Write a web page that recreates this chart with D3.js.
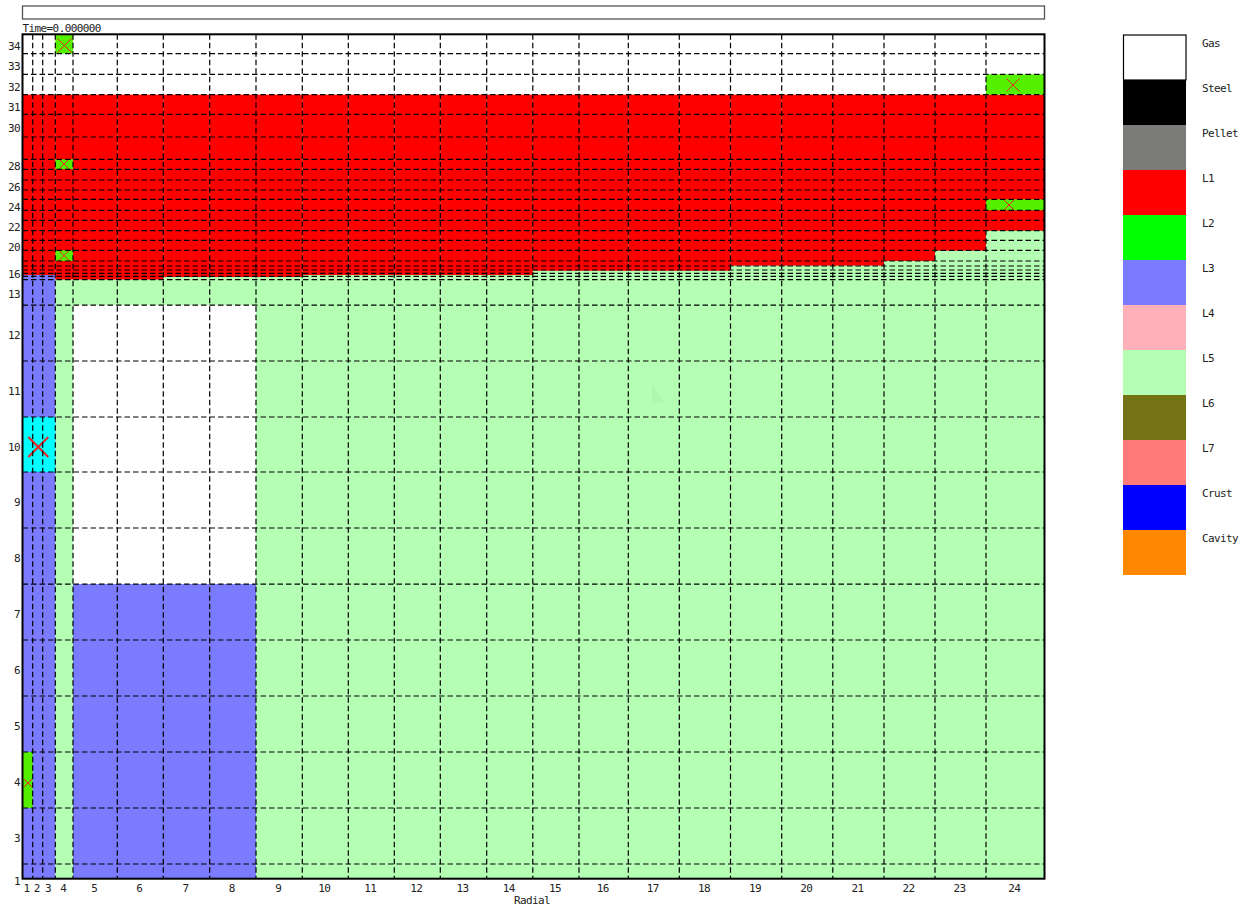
<!DOCTYPE html>
<html>
<head>
<meta charset="utf-8">
<title>Time=0.000000</title>
<script src="https://cdn.jsdelivr.net/npm/d3@7"></script>
<style>
  html, body { margin: 0; background: #fff; }
  svg { display: block; }
  text { font-family: "DejaVu Sans Mono", monospace; font-size: 11px; letter-spacing: -0.6px; fill: #222; }
  .axis path, .axis line { display: none; }
</style>
</head>
<body>
<script>
//radial mesh, cell outer edges (first value is the axis)
var radialEdges = [0, 1.02, 2.02, 3.28, 5.05, 9.48, 14.08, 18.72, 23.35, 27.98, 32.58, 37.18,
  41.78, 46.42, 51.03, 55.65, 60.58, 65.68, 70.8, 75.92, 81.03, 86.15, 91.25, 96.35, 102.2];

//axial mesh, cell top heights for rows 1 to 34 (row 1 has no height)
var axialEdges = [0, 0, 2.63, 12.67, 22.7, 32.74, 42.77, 52.8, 62.84, 72.87, 82.73, 92.76, 102.79,
  107.36, 107.94, 108.47, 109.07, 109.78, 110.68, 112.6, 114.39, 116.14, 117.97, 119.76,
  121.73, 123.4, 125.19, 127.11, 128.9, 132.9, 136.96, 140.48, 144.13, 147.82, 151.3];

var radialLabels = d3.range(1, 25);
var axialLabels = [34, 33, 32, 31, 30, 28, 26, 24, 22, 20, 16, 13, 12, 11, 10, 9, 8, 7, 6, 5, 4, 3, 1];

//legend
var materialNames = ["Gas", "Steel", "Pellet", "L1", "L2", "L3", "L4", "L5", "L6", "L7", "Crust", "Cavity"];
var materialColors = ["#ffffff", "#000000", "#7b7b78", "#ff0000", "#00ff00", "#7b7bff",
  "#ffb0b8", "#b4ffb4", "#747414", "#ff7b7b", "#0000ff", "#ff8800"];

//material blocks, painted in this order, by column and row range
var blockMaterial = ["L5", "L3", "L3", "Gas", "Gas"];
var blockColFrom = [4, 1, 5, 5, 1];
var blockColTo = [24, 3, 8, 8, 24];
var blockRowFrom = [1, 1, 1, 8, 32];
var blockRowTo = [31, 31, 7, 12, 34];

//L1 layer: bottom height for each of the 24 columns, and its common top
var l1Bottom = [108.17, 108.17, 108.17, 107.36, 107.36, 107.36, 107.81, 107.81, 107.81, 108.17,
  108.17, 108.17, 108.17, 108.17, 108.94, 108.94, 108.94, 108.94, 109.84, 109.84, 109.84,
  110.68, 112.53, 116.11];
var l1Top = 140.48;

//flagged cells drawn over the materials
var flagColor = ["#55f000", "#55f000", "#55f000", "#55f000", "#55f000", "#00ffff", "#55f000"];
var flagColFrom = [4, 4, 4, 24, 24, 1, 1];
var flagColTo = [4, 4, 4, 24, 24, 3, 1];
var flagRow = [34, 28, 19, 32, 24, 10, 4];

//crosses on those cells: radial, height, half size (radial units), line weight
var crossRadial = [4.2, 4.15, 4.15, 99.05, 98.65, 1.58, 0.55];
var crossHeight = [149.29, 128.06, 111.66, 142.21, 120.71, 77.35, 17.15];
var crossSize = [0.7, 0.5, 0.55, 0.65, 0.5, 1.0, 0.4];
var crossWeight = [1, 1, 1, 1, 1, 2, 1];

//faint pointer left in the frame
var pointerRadial = [62.95, 64.15, 62.95];
var pointerHeight = [88.7, 85.6, 85.1];

//Width and height
var w = 1250;
var h = 909;

var svg = d3.select("body")
            .append("svg")
            .attr("width", w)
            .attr("height", h);

//scales
var xScale = d3.scaleLinear()
            .domain([0, 102.2])
            .range([22.5, 1044.5]);

var yScale = d3.scaleLinear()
            .domain([0, 151.3])
            .range([878.7, 34.3]);

var legendScale = d3.scaleBand()
            .domain(materialNames)
            .range([35, 575]);

function materialColor(name){
    return materialColors[materialNames.indexOf(name)];
}

//paints a rectangle between two radial and two axial positions
function fillRect(r0, r1, z0, z1, color){
    svg.append("rect")
        .attr("x", xScale(r0))
        .attr("y", yScale(z1))
        .attr("width", xScale(r1) - xScale(r0))
        .attr("height", yScale(z0) - yScale(z1))
        .attr("fill", color);
}

//status bar at the top
svg.append("rect")
    .attr("x", 22.5)
    .attr("y", 6)
    .attr("width", 1022)
    .attr("height", 13)
    .attr("fill", "none")
    .attr("stroke", "#555")
    .attr("stroke-width", 1.3);

svg.append("text")
    .attr("x", 22.5)
    .attr("y", 32)
    .text("Time=0.000000");

//material blocks
blockMaterial.forEach(function(m, i){
    fillRect(radialEdges[blockColFrom[i] - 1], radialEdges[blockColTo[i]],
             axialEdges[blockRowFrom[i] - 1], axialEdges[blockRowTo[i]], materialColor(m));
});

//L1 layer
l1Bottom.forEach(function(z, i){
    fillRect(radialEdges[i], radialEdges[i + 1], z, l1Top, materialColor("L1"));
});

//flagged cells
flagRow.forEach(function(r, i){
    fillRect(radialEdges[flagColFrom[i] - 1], radialEdges[flagColTo[i]],
             axialEdges[r - 1], axialEdges[r], flagColor[i]);
});

//pointer
svg.append("path")
    .attr("d", d3.line()
        .x(function(d){return xScale(d)})
        .y(function(d, i){return yScale(pointerHeight[i])})
        .curve(d3.curveLinearClosed)(pointerRadial))
    .attr("fill", "#aef8ae");

//crosses
crossRadial.forEach(function(r, i){
    var s = xScale(crossSize[i]) - xScale(0);
    var cx = xScale(r);
    var cy = yScale(crossHeight[i]);
    var p = d3.path();
    p.moveTo(cx - s, cy - s);
    p.lineTo(cx + s, cy + s);
    p.moveTo(cx - s, cy + s);
    p.lineTo(cx + s, cy - s);
    svg.append("path")
        .attr("d", p.toString())
        .attr("fill", "none")
        .attr("stroke", "#ee2222")
        .attr("stroke-width", crossWeight[i]);
});

//dashed mesh lines
svg.selectAll(".vgrid")
    .data(radialEdges.slice(1, -1))
    .enter()
    .append("line")
    .attr("class", "vgrid")
    .attr("x1", function(d){return xScale(d)})
    .attr("x2", function(d){return xScale(d)})
    .attr("y1", yScale(151.3))
    .attr("y2", yScale(0))
    .attr("stroke", "#000")
    .attr("stroke-width", 1.2)
    .attr("stroke-dasharray", "5.5,3");

svg.selectAll(".hgrid")
    .data(axialEdges.slice(2, -1))
    .enter()
    .append("line")
    .attr("class", "hgrid")
    .attr("x1", xScale(0))
    .attr("x2", xScale(102.2))
    .attr("y1", function(d){return yScale(d)})
    .attr("y2", function(d){return yScale(d)})
    .attr("stroke", "#000")
    .attr("stroke-width", 1.2)
    .attr("stroke-dasharray", "5.5,3");

//plot frame
svg.append("rect")
    .attr("x", xScale(0))
    .attr("y", yScale(151.3))
    .attr("width", xScale(102.2) - xScale(0))
    .attr("height", yScale(0) - yScale(151.3))
    .attr("fill", "none")
    .attr("stroke", "#000")
    .attr("stroke-width", 2);

//X axis, labels sit at the middle of each column
svg.append("g")
    .attr("class", "axis")
    .attr("transform", "translate(-1," + yScale(0) + ")")
    .call(d3.axisBottom(xScale)
        .tickValues(radialLabels.map(function(c){return (radialEdges[c - 1] + radialEdges[c]) / 2}))
        .tickFormat(function(d, i){return radialLabels[i]})
        .tickSize(0)
        .tickPadding(5.2)
        .offset(0));

//Y axis, labels sit at the middle of each row
svg.append("g")
    .attr("class", "axis")
    .attr("transform", "translate(" + xScale(0) + ",2.5)")
    .call(d3.axisLeft(yScale)
        .tickValues(axialLabels.map(function(r){return (axialEdges[r - 1] + axialEdges[r]) / 2}))
        .tickFormat(function(d, i){return axialLabels[i]})
        .tickSize(0)
        .tickPadding(2.5)
        .offset(0));

svg.selectAll(".axis text")
    .style("font-family", "'DejaVu Sans Mono', monospace")
    .style("font-size", "11px")
    .attr("fill", "#222");

//label for X axis
svg.append("text")
    .attr("x", 532)
    .attr("y", 904)
    .attr("text-anchor", "middle")
    .text("Radial");

//legend
svg.selectAll(".swatch")
    .data(materialNames)
    .enter()
    .append("rect")
    .attr("class", "swatch")
    .attr("x", 1123)
    .attr("y", function(d){return legendScale(d)})
    .attr("width", 63)
    .attr("height", legendScale.bandwidth())
    .attr("fill", function(d){return materialColor(d)});

svg.append("rect")
    .attr("x", 1123.5)
    .attr("y", 35)
    .attr("width", 62.5)
    .attr("height", legendScale.bandwidth())
    .attr("fill", "none")
    .attr("stroke", "#000")
    .attr("stroke-width", 1.2);

svg.selectAll(".legendLabel")
    .data(materialNames)
    .enter()
    .append("text")
    .attr("class", "legendLabel")
    .attr("x", 1202)
    .attr("y", function(d){return legendScale(d) + 12})
    .text(function(d){return d});
</script>
</body>
</html>
